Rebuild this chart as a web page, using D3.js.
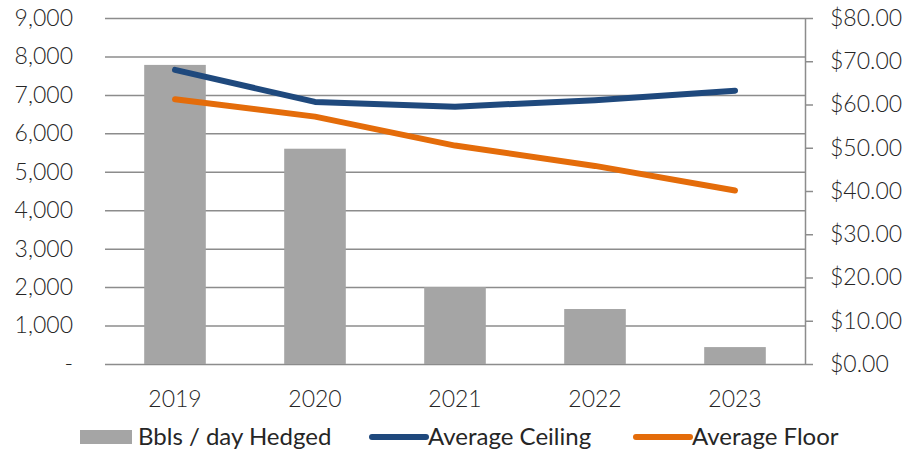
<!DOCTYPE html>
<head>
    <style>
        * {
            padding: 0;
            margin: 0;
        }
        body {
            background: #fff;
        }
        text {
            font-family: Lato, sans-serif;
            font-weight: 300;
            fill: #262626;
        }
    </style>
    <script src="https://cdn.jsdelivr.net/npm/d3@7"></script>
</head>

<body>
    <script>

        /////////////////////////////////////////////////////
        // DATA
        /////////////////////////////////////////////////////

        const years = ["2019", "2020", "2021", "2022", "2023"]
        const hedged = [7780, 5600, 2000, 1430, 440]
        const ceiling = [68.0, 60.6, 59.5, 61.0, 63.2]
        const floor = [61.2, 57.2, 50.5, 45.8, 40.1]

        const leftTicks = [0, 1000, 2000, 3000, 4000, 5000, 6000, 7000, 8000, 9000]
        const rightTicks = [0, 10, 20, 30, 40, 50, 60, 70, 80]

        const legendItems = [
            { label: "Bbls / day Hedged", type: "bar", color: "#A5A5A5" },
            { label: "Average Ceiling", type: "line", color: "#1F497D" },
            { label: "Average Floor", type: "line", color: "#E46C0A" }
        ]

        /////////////////////////////////////////////////////
        // SETUP
        /////////////////////////////////////////////////////

        const width = 906
        const height = 453
        const plot = { left: 105, right: 805, top: 18, bottom: 364 }

        const svg = d3.select("body").append("svg")
            .attr("width", width)
            .attr("height", height)

        const x = d3.scaleBand()
            .domain(years)
            .range([plot.left, plot.right])
            .paddingInner(0.56)
            .paddingOuter(0.28)

        const yLeft = d3.scaleLinear()
            .domain([0, 9000])
            .range([plot.bottom, plot.top])

        const yRight = d3.scaleLinear()
            .domain([0, 80])
            .range([plot.bottom, plot.top])

        const fmtLeft = d => d === 0 ? "-" : d3.format(",")(d)
        const fmtRight = d => "$" + d3.format(".2f")(d)

        //Shared styling for tick labels
        const styleText = g => g.selectAll(".tick text")
            .attr("font-family", "Lato, sans-serif")
            .attr("font-size", 23)
            .attr("fill", "#262626")

        /////////////////////////////////////////////////////
        // GRIDLINES + AXES
        /////////////////////////////////////////////////////

        //Horizontal gridlines from the left axis
        svg.append("g")
            .attr("transform", `translate(${plot.left},0)`)
            .call(d3.axisLeft(yLeft).tickValues(leftTicks).tickSize(-(plot.right - plot.left)).tickFormat(fmtLeft).tickPadding(32))
            .call(g => g.select(".domain").remove())
            .call(g => g.selectAll(".tick line").attr("stroke", "#8C8C8C").attr("stroke-width", 1.5))
            .call(styleText)

        //Right axis with outer ticks
        svg.append("g")
            .attr("transform", `translate(${plot.right},0)`)
            .call(d3.axisRight(yRight).tickValues(rightTicks).tickSize(8).tickSizeOuter(0).tickFormat(fmtRight).tickPadding(17))
            .call(g => g.select(".domain").attr("stroke", "#8C8C8C").attr("stroke-width", 1.5))
            .call(g => g.selectAll(".tick line").attr("stroke", "#8C8C8C").attr("stroke-width", 1.5))
            .call(styleText)

        //Bottom category labels
        svg.append("g")
            .attr("transform", `translate(0,${plot.bottom})`)
            .call(d3.axisBottom(x).tickSize(0).tickPadding(27))
            .call(g => g.select(".domain").remove())
            .call(styleText)

        /////////////////////////////////////////////////////
        // BARS
        /////////////////////////////////////////////////////

        svg.append("g").selectAll("rect")
            .data(hedged)
            .join("rect")
            .attr("x", (d, i) => x(years[i]))
            .attr("y", d => yLeft(d))
            .attr("width", x.bandwidth())
            .attr("height", d => yLeft(0) - yLeft(d))
            .attr("fill", "#A5A5A5")

        /////////////////////////////////////////////////////
        // LINES
        /////////////////////////////////////////////////////

        const line = d3.line()
            .x((d, i) => x(years[i]) + x.bandwidth() / 2)
            .y(d => yRight(d))

        ;[[ceiling, "#1F497D"], [floor, "#E46C0A"]].forEach(([vals, col]) => {
            svg.append("path")
                .datum(vals)
                .attr("d", line)
                .attr("fill", "none")
                .attr("stroke", col)
                .attr("stroke-width", 6)
                .attr("stroke-linecap", "round")
                .attr("stroke-linejoin", "round")
        })

        /////////////////////////////////////////////////////
        // LEGEND
        /////////////////////////////////////////////////////

        const legendX = [80, 370, 634]
        const legendY = 437

        const legend = svg.append("g").selectAll("g")
            .data(legendItems)
            .join("g")
            .attr("transform", (d, i) => `translate(${legendX[i]},${legendY})`)

        legend.filter(d => d.type === "bar").append("rect")
            .attr("x", 0).attr("y", -7)
            .attr("width", 52).attr("height", 14)
            .attr("fill", d => d.color)

        legend.filter(d => d.type === "line").append("line")
            .attr("x1", 2).attr("x2", 56)
            .attr("stroke", d => d.color)
            .attr("stroke-width", 6)
            .attr("stroke-linecap", "round")

        //Legend text is a regular weight, a bit heavier than the tick labels
        legend.append("text")
            .attr("x", 58)
            .attr("dy", "0.35em")
            .attr("font-size", 24)
            .style("font-weight", 400)
            .text(d => d.label)

    </script>
</body>
